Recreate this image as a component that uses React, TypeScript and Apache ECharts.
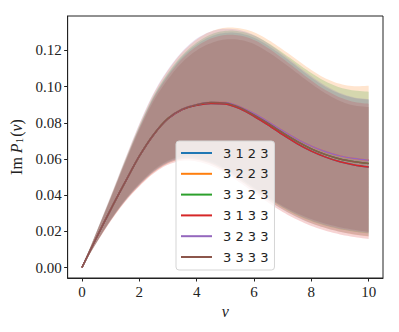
import React, { useEffect, useRef } from "react";
import * as echarts from "echarts";

const nu = [0, 0.5, 1, 1.5, 2, 2.5, 3, 3.5, 4, 4.5, 5, 5.5, 6, 6.5, 7, 7.5, 8, 8.5, 9, 9.5, 10];

const seriesNames = ["3 1 2 3", "3 2 2 3", "3 3 2 3", "3 1 3 3", "3 2 3 3", "3 3 3 3"];
const colors = ["#1f77b4", "#ff7f0e", "#2ca02c", "#d62728", "#9467bd", "#8c564b"];

// mean curves
const mean1 = [0, 0.0163, 0.032, 0.047, 0.0615, 0.0734, 0.0822, 0.0873, 0.0897, 0.0907, 0.0904, 0.0878, 0.0836, 0.0787, 0.0734, 0.0685, 0.0643, 0.061, 0.0584, 0.0567, 0.0556];
const mean2 = [0, 0.0163, 0.032, 0.047, 0.0615, 0.0735, 0.0824, 0.0876, 0.0901, 0.0913, 0.0912, 0.0889, 0.0851, 0.0805, 0.0756, 0.071, 0.0671, 0.064, 0.0617, 0.0602, 0.0593];
const mean3 = [0, 0.0163, 0.032, 0.047, 0.0615, 0.0735, 0.0824, 0.0875, 0.09, 0.0912, 0.0909, 0.0884, 0.0843, 0.0796, 0.0745, 0.0697, 0.0656, 0.0624, 0.06, 0.0585, 0.0575];
const mean4 = [0, 0.0163, 0.032, 0.047, 0.0615, 0.0734, 0.0822, 0.0873, 0.0897, 0.0907, 0.0904, 0.0878, 0.0836, 0.0787, 0.0734, 0.0685, 0.0643, 0.061, 0.0584, 0.0567, 0.0556];
const mean5 = [0, 0.0163, 0.032, 0.047, 0.0615, 0.0735, 0.0824, 0.0876, 0.0901, 0.0913, 0.0912, 0.0889, 0.0851, 0.0805, 0.0756, 0.071, 0.0671, 0.064, 0.0617, 0.0602, 0.0593];
const mean6 = [0, 0.0163, 0.032, 0.047, 0.0615, 0.0735, 0.0824, 0.0875, 0.09, 0.0912, 0.0909, 0.0884, 0.0843, 0.0796, 0.0745, 0.0697, 0.0656, 0.0624, 0.06, 0.0585, 0.0575];

// band upper edges
const upper1 = [0, 0.0193, 0.0386, 0.0585, 0.0775, 0.0942, 0.1067, 0.1165, 0.1233, 0.1277, 0.1297, 0.1294, 0.127, 0.1225, 0.117, 0.111, 0.105, 0.0998, 0.096, 0.0937, 0.0928];
const upper2 = [0, 0.0195, 0.0392, 0.0595, 0.079, 0.096, 0.109, 0.119, 0.126, 0.1305, 0.1325, 0.1322, 0.13, 0.1258, 0.1205, 0.1148, 0.1092, 0.1045, 0.1015, 0.1002, 0.1005];
const upper3 = [0, 0.0194, 0.0388, 0.0588, 0.078, 0.0948, 0.1075, 0.1173, 0.1243, 0.1288, 0.1308, 0.1305, 0.1282, 0.124, 0.1187, 0.113, 0.1075, 0.1028, 0.0995, 0.0978, 0.0972];
const upper4 = [0, 0.0192, 0.0384, 0.0582, 0.077, 0.0935, 0.1058, 0.1155, 0.1222, 0.1265, 0.1285, 0.1282, 0.1258, 0.1212, 0.1155, 0.1094, 0.1033, 0.098, 0.094, 0.0915, 0.0905];
const upper5 = [0, 0.0196, 0.0395, 0.0598, 0.0795, 0.0965, 0.1095, 0.1195, 0.1265, 0.1305, 0.132, 0.1312, 0.1285, 0.1238, 0.118, 0.1118, 0.1058, 0.1005, 0.0965, 0.094, 0.093];
const upper6 = [0, 0.019, 0.038, 0.0575, 0.076, 0.092, 0.104, 0.1135, 0.12, 0.124, 0.126, 0.1258, 0.1235, 0.119, 0.1135, 0.1075, 0.1015, 0.0962, 0.092, 0.0895, 0.0887];

// band lower edges
const lower1 = [0, 0.0136, 0.026, 0.0368, 0.0456, 0.0528, 0.0577, 0.06, 0.0596, 0.0574, 0.0533, 0.0482, 0.0426, 0.0371, 0.032, 0.0278, 0.0244, 0.0218, 0.0198, 0.0183, 0.0173];
const lower2 = [0, 0.0135, 0.0258, 0.0365, 0.0452, 0.0525, 0.0575, 0.0598, 0.0595, 0.0573, 0.0533, 0.0483, 0.0428, 0.0373, 0.0322, 0.028, 0.0245, 0.0218, 0.0198, 0.0182, 0.0172];
const lower3 = [0, 0.0137, 0.0262, 0.037, 0.046, 0.0533, 0.0583, 0.0606, 0.0603, 0.0582, 0.0542, 0.0492, 0.0437, 0.0382, 0.0332, 0.029, 0.0257, 0.0231, 0.0212, 0.0198, 0.0188];
const lower4 = [0, 0.0134, 0.0256, 0.0362, 0.0448, 0.052, 0.0568, 0.059, 0.0586, 0.0563, 0.0522, 0.047, 0.0414, 0.0358, 0.0307, 0.0265, 0.023, 0.0203, 0.0183, 0.0168, 0.0158];
const lower5 = [0, 0.0136, 0.026, 0.0368, 0.0456, 0.053, 0.058, 0.0604, 0.0601, 0.058, 0.0541, 0.0492, 0.0438, 0.0384, 0.0335, 0.0294, 0.0261, 0.0235, 0.0216, 0.0202, 0.0192];
const lower6 = [0, 0.0138, 0.0265, 0.0375, 0.0465, 0.054, 0.059, 0.0615, 0.0612, 0.059, 0.055, 0.05, 0.0445, 0.039, 0.034, 0.03, 0.0268, 0.0242, 0.0223, 0.0208, 0.0197];

const xTicks = [0, 2, 4, 6, 8, 10];
const yTicks = [0, 0.02, 0.04, 0.06, 0.08, 0.1, 0.12];

const means = [mean1, mean2, mean3, mean4, mean5, mean6];
const uppers = [upper1, upper2, upper3, upper4, upper5, upper6];
const lowers = [lower1, lower2, lower3, lower4, lower5, lower6];

// Catmull-Rom smoothing of pixel points (rendering only)
function smoothPx(pts: number[][], steps = 6): number[][] {
  const out: number[][] = [];
  const n = pts.length;
  for (let i = 0; i < n - 1; i++) {
    const p0 = pts[Math.max(0, i - 1)];
    const p1 = pts[i];
    const p2 = pts[i + 1];
    const p3 = pts[Math.min(n - 1, i + 2)];
    for (let s = 0; s < steps; s++) {
      const t = s / steps;
      const t2 = t * t;
      const t3 = t2 * t;
      const f = (a: number, b: number, c: number, d: number) =>
        0.5 * (2 * b + (-a + c) * t + (2 * a - 5 * b + 4 * c - d) * t2 + (-a + 3 * b - 3 * c + d) * t3);
      out.push([f(p0[0], p1[0], p2[0], p3[0]), f(p0[1], p1[1], p2[1], p3[1])]);
    }
  }
  out.push(pts[n - 1]);
  return out;
}

export default function App() {
  const ref = useRef<HTMLDivElement>(null);
  useEffect(() => {
    if (!ref.current) return;
    const chart = echarts.init(ref.current, null, { renderer: "svg" });
    const serif = "Liberation Serif";
    const series: any[] = [];
    for (let i = 0; i < 6; i++) {
      const up = uppers[i];
      const lo = lowers[i];
      series.push({
        name: "band" + i,
        type: "custom",
        silent: true,
        data: nu.map((x, k) => [x, lo[k], up[k]]),
        encode: { x: 0, y: [1, 2] },
        renderItem: (params: any, api: any) => {
          if (params.dataIndex !== 0) return null;
          const top = smoothPx(nu.map((x, k) => api.coord([x, up[k]])));
          const bot = smoothPx(nu.map((x, k) => api.coord([x, lo[k]]))).reverse();
          return {
            type: "polygon",
            shape: { points: top.concat(bot) },
            style: { fill: colors[i], opacity: 0.2 },
          };
        },
      });
    }
    for (let i = 0; i < 6; i++) {
      series.push({
        name: seriesNames[i],
        type: "line",
        smooth: 0.3,
        symbol: "none",
        showSymbol: false,
        color: colors[i],
        lineStyle: { color: colors[i], width: 1.5 },
        data: nu.map((x, k) => [x, means[i][k]]),
      });
    }
    chart.setOption({
      animation: false,
      grid: {
        left: 66,
        top: 16,
        right: 16,
        bottom: 54,
        show: true,
        borderColor: "#222",
        borderWidth: 1,
        backgroundColor: "transparent",
      },
      xAxis: {
        type: "value",
        min: -0.5,
        max: 10.5,
        splitLine: { show: false },
        axisLine: { show: true, onZero: false, lineStyle: { color: "#222", width: 1 } },
        axisTick: { show: true, inside: false, length: 3.5, customValues: xTicks, lineStyle: { color: "#222" } },
        axisLabel: {
          customValues: xTicks,
          margin: 6,
          fontFamily: serif,
          fontSize: 15,
          color: "#222",
          formatter: (v: number) => String(v),
        },
        name: "ν",
        nameLocation: "middle",
        nameGap: 24,
        nameTextStyle: { fontFamily: serif, fontSize: 16, fontStyle: "italic", color: "#222" },
      },
      yAxis: {
        type: "value",
        min: -0.0058,
        max: 0.139,
        splitLine: { show: false },
        axisLine: { show: true, onZero: false, lineStyle: { color: "#222", width: 1 } },
        axisTick: { show: true, inside: false, length: 3.5, customValues: yTicks, lineStyle: { color: "#222" } },
        axisLabel: {
          customValues: yTicks,
          margin: 6,
          fontFamily: serif,
          fontSize: 15,
          color: "#222",
          formatter: (v: number) => v.toFixed(2),
        },
        name: "{a|Im }{b|P}{s|1}{a|(}{b|ν}{a|)}",
        nameLocation: "middle",
        nameRotate: 90,
        nameGap: 36,
        nameTextStyle: {
          color: "#222",
          rich: {
            a: { fontFamily: serif, fontSize: 16, color: "#222" },
            b: { fontFamily: serif, fontSize: 16, fontStyle: "italic", color: "#222" },
            s: { fontFamily: serif, fontSize: 11, color: "#222", padding: [6, 1, 0, 0] },
          },
        },
      },
      legend: {
        data: seriesNames,
        orient: "vertical",
        left: 176,
        top: 141,
        padding: [5, 6, 6, 5],
        icon: "rect",
        itemWidth: 31,
        itemHeight: 2,
        itemGap: 6.8,
        backgroundColor: "rgba(255,255,255,0.8)",
        borderColor: "#d5d5d5",
        borderWidth: 1,
        borderRadius: 3,
        textStyle: { fontFamily: "DejaVu Sans", fontSize: 13, lineHeight: 14, color: "#222", padding: [0, 0, 0, 6] },
      },
      series,
    });
    return () => chart.dispose();
  }, []);
  return <div ref={ref} style={{ position: "absolute", left: 0, top: 0, width: 399, height: 332 }} />;
}
